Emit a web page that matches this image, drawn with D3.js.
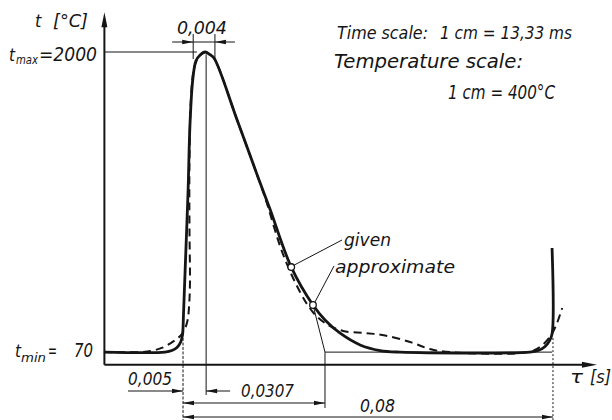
<!DOCTYPE html>
<html><head><meta charset="utf-8">
<script src="https://cdn.jsdelivr.net/npm/d3@7/dist/d3.min.js"></script>
<style>
body{margin:0;background:#fff}
svg{display:block}
text{font-family:"DejaVu Sans Condensed","DejaVu Sans",sans-serif;font-style:italic;fill:#151515}
</style>
</head><body><svg id="c" width="612" height="420"></svg>
<script>
// ---------- data ----------
// given temperature cycle (tau in s, t in °C)
const givenTau  = [-0.0171,-0.0039,-0.0024,-0.0013,-0.0005,-0.0001,0.0001,0.0005,0.0011,0.0015,0.0021,0.0028,0.0037,0.0048,0.0058,0.0067,0.0117,0.0162,0.0188,0.0234,0.0281,0.0307,0.0339,0.0383,0.0426,0.0469,0.0750,0.0768,0.0783,0.0792,0.0798,0.0798];
const givenTemp = [70,70,80,100,135,186,309,630,1113,1530,1820,1943,1981,2000,1984,1961,1563,1196,990,617,373,277,193,116,80,70,70,80,106,141,186,740];
// approximate cycle
const approxTau  = [-0.0171,-0.0093,-0.0065,-0.0043,-0.0028,-0.0015,-0.0004,0.0004,0.0010,0.0013,0.0015,0.0014,0.0014,0.0017,0.0024,0.0035,0.0048,0.0058,0.0067,0.0117,0.0158,0.0177,0.0216,0.0253,0.0279,0.0307,0.0346,0.0394,0.0437,0.0491,0.0534,0.0577,0.0746,0.0772,0.0793,0.0807,0.0820];
const approxTemp = [70,70,80,100,125,151,180,219,277,360,514,855,1306,1691,1897,1974,2000,1984,1961,1563,1228,1068,701,457,334,257,206,193,177,135,90,70,70,103,167,244,354];
// linear approximation tail
const linTau  = [0.0281,0.0307,0.0798];
const linTemp = [373,70,70];
// marked points: [tau, t]
const markGiven  = [0.0234,617];
const markApprox = [0.0281,373];
const tMax = 2000, tMin = 70;
// dimension values (s)
const dimRise = 0, dimPeak = 0.005, dimLin = 0.0307, dimCycle = 0.08;
const plateau = [0.0022,0.0069];
const dimLabels = ["0,004","0,005","0,0307","0,08"];
// axis extents
const tauDomain = [-0.017,0.089], tempDomain = [0,2000];
const tAxisLevel = -12, tAxisTop = 2255, tauAxisEnd = 0.0895;

// ---------- drawing ----------
const svg = d3.select("#c");
const x = d3.scaleLinear().domain(tauDomain).range([104.4,594.6]);
const y = d3.scaleLinear().domain(tempDomain).range([363,52]);
const ink = "#151515";

function arrow(tx,ty,dx,dy,len,hw){
  len=len||11; hw=hw||2.2;
  const bx=tx-dx*len, by=ty-dy*len, px=-dy*hw, py=dx*hw;
  svg.append("path").attr("d",`M${tx},${ty}L${bx+px},${by+py}L${bx-px},${by-py}Z`).attr("fill",ink);
}
function line(x1,y1,x2,y2,w,dash){
  const l=svg.append("line").attr("x1",x1).attr("y1",y1).attr("x2",x2).attr("y2",y2)
    .attr("stroke",ink).attr("stroke-width",w||1);
  if(dash) l.attr("stroke-dasharray",dash);
  return l;
}
function label(str,xx,yy,size,len){
  const t=svg.append("text").attr("x",xx).attr("y",yy).attr("font-size",size).text(str);
  if(len) t.attr("textLength",len).attr("lengthAdjust","spacingAndGlyphs");
  return t;
}

const x0 = x(tauDomain[0]), yA = y(tAxisLevel);
// axes
line(x0,yA,x0,y(tAxisTop)+10,2);
arrow(x0,y(tAxisTop),0,-1,15,3);
line(x0,yA,x(tauAxisEnd)-10,yA,2);
arrow(x(tauAxisEnd),yA,1,0,15,3);

// thin helper lines
line(x0,y(tMax),x(0.003),y(tMax),1);
line(x(dimPeak),y(1985),x(dimPeak),395,1);
line(x(dimRise),y(190),x(dimRise),420,1,"3,1.5");
line(x(dimLin),y(tMin),x(dimLin),408,1);
line(x(dimCycle),y(160),x(dimCycle),420,1,"2,2");
plateau.forEach(p=>line(x(p),34,x(p),y(1955),1));

// linear approximation tail
svg.append("path")
  .attr("d",d3.line().x((d,i)=>x(linTau[i])).y((d,i)=>y(linTemp[i]))(linTau))
  .attr("fill","none").attr("stroke",ink).attr("stroke-width",1);

// dimension lines
line(x(plateau[0])-21,42,x(plateau[1])+20,42,1);
arrow(x(plateau[0]),42,1,0);
arrow(x(plateau[1]),42,-1,0);
line(128,391,x(dimRise),391,1);
arrow(x(dimRise),391,1,0);
line(x(dimPeak),391,x(dimPeak)+24,391,1);
arrow(x(dimPeak),391,-1,0);
line(x(dimRise),403,x(dimLin),403,1);
arrow(x(dimRise),403,-1,0);
arrow(x(dimLin),403,1,0);
line(x(dimRise),417,x(dimCycle),417,1);
arrow(x(dimRise),417,-1,0);
arrow(x(dimCycle),417,1,0);

// curves
const curve = d3.curveCatmullRom.alpha(0.5);
svg.append("path")
  .attr("d",d3.line().x((d,i)=>x(approxTau[i])).y((d,i)=>y(approxTemp[i])).curve(curve)(approxTau))
  .attr("fill","none").attr("stroke",ink).attr("stroke-width",2).attr("stroke-dasharray","8,5");
svg.append("path")
  .attr("d",d3.line().x((d,i)=>x(givenTau[i])).y((d,i)=>y(givenTemp[i])).curve(curve)(givenTau))
  .attr("fill","none").attr("stroke",ink).attr("stroke-width",2.8).attr("stroke-linejoin","round");

// leaders and markers
line(342,240,x(markGiven[0])+3,y(markGiven[1])-2,1);
line(334,266,x(markApprox[0])+2,y(markApprox[1])-3,1);
[markGiven,markApprox].forEach(m=>svg.append("circle").attr("cx",x(m[0])).attr("cy",y(m[1])).attr("r",3.3)
  .attr("fill","#fff").attr("stroke",ink).attr("stroke-width",1.3));

// texts
label("t",35,27,18);
label("[°C]",53,27,18,35);
label("t",9,61,18,6);
label("max",16,64,12,22);
label("=2000",39,61,19,58);
label("t",15,357,18,6);
label("min",21,362,12,25);
label("=",48,357,19,9);
label(String(tMin),74,357,19,19);
label(dimLabels[0],177,34,18,50);
label(dimLabels[1],128,385,18,44);
label(dimLabels[2],241,397,18,53);
label(dimLabels[3],360,412,18,35);
label("Time scale:",337,39,18.5,91);
label("1 cm = 13,33 ms",440,39,18.5,132);
label("Temperature scale:",334,68,19,189);
label("1 cm = 400°C",448,99,19,107);
label("given",344,246,17.5,47);
label("approximate",335,273,17.5,120);
label("τ",570,383,18,13);
label("[s]",590,383,18,21);
</script>
</body></html>
